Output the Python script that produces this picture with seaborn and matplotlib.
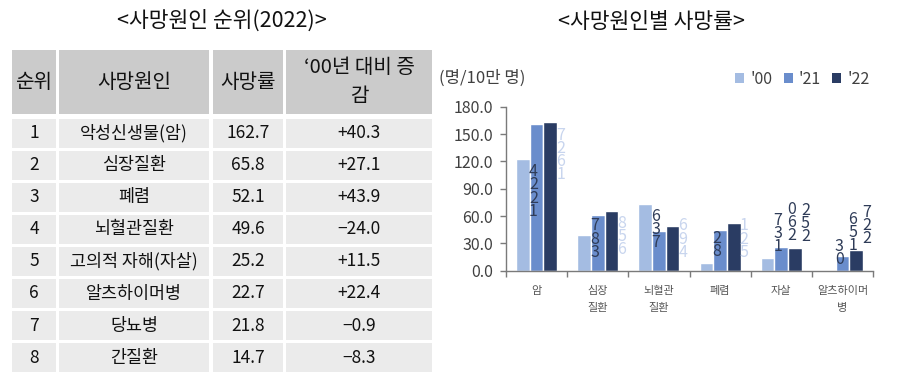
import numpy as np
import pandas as pd
import matplotlib
matplotlib.use("Agg")
import matplotlib.pyplot as plt
from matplotlib.patches import Rectangle, Patch
from matplotlib.ticker import FixedLocator, FormatStrFormatter
import seaborn as sns

# ---------------- data ----------------
# table (left)
table_title = "<사망원인 순위(2022)>"
table_header = ["순위", "사망원인", "사망률", "‘00년 대비 증\n감"]
rank = ["1", "2", "3", "4", "5", "6", "7", "8"]
causes = ["악성신생물(암)", "심장질환", "폐렴", "뇌혈관질환",
          "고의적 자해(자살)", "알츠하이머병", "당뇨병", "간질환"]
rate_2022 = [162.7, 65.8, 52.1, 49.6, 25.2, 22.7, 21.8, 14.7]
change_vs_2000 = ["+40.3", "+27.1", "+43.9", "−24.0", "+11.5", "+22.4", "−0.9", "−8.3"]

# chart (right)
chart_title = "<사망원인별 사망률>"
unit_label = "(명/10만 명)"
chart_categories = ["암", "심장\n질환", "뇌혈관\n질환", "폐렴", "자살", "알츠하이머\n병"]
years = ["'00", "'21", "'22"]
rate_00 = [122.4, 38.7, 73.6, 8.2, 13.7, 0.3]
rate_21 = [161.1, 61.5, 44.0, 44.4, 26.0, 15.6]
rate_22 = [162.7, 65.8, 49.6, 52.1, 25.2, 22.7]
y_ticks = [0, 30, 60, 90, 120, 150, 180]
show_label_00 = [True, True, True, True, True, True]
show_label_21 = [False, False, False, False, True, True]
show_label_22 = [True, True, True, True, True, True]

# ---------------- style ----------------
sns.set_theme(style="white")
plt.rcParams["font.family"] = ["Noto Sans CJK KR", "DejaVu Sans"]

bar_colors = ["#a4bce2", "#6a8dcc", "#2a3c63"]
dark_lbl = "#2f3c58"
pale_lbl = "#c8d5ee"
axis_col = "#7a7a7a"
text_col = "#404040"

W, H = 909, 378
fig = plt.figure(figsize=(W / 100, H / 100), dpi=100)

# ---------------- left table ----------------
tb = fig.add_axes([0, 0, 1, 1])
tb.set_xlim(0, W)
tb.set_ylim(H, 0)
tb.axis("off")

col_edges = [(12, 56), (59, 209), (213, 283), (286, 432)]
head_top, head_bot = 50, 114
row_top0, row_pitch, row_h = 118.5, 32.1, 29

tb.text(222, 21, table_title, ha="center", va="center", fontsize=15.5, color="#111111")

for (x0, x1), htxt in zip(col_edges, table_header):
    tb.add_patch(Rectangle((x0, head_top), x1 - x0, head_bot - head_top,
                           facecolor="#cbcbcb", edgecolor="none"))
    tb.text((x0 + x1) / 2, (head_top + head_bot) / 2, htxt, ha="center", va="center",
            fontsize=14.5, color="#111111", linespacing=1.45)

for i in range(len(rank)):
    y0 = row_top0 + i * row_pitch
    cells = [rank[i], causes[i], f"{rate_2022[i]:.1f}", change_vs_2000[i]]
    for (x0, x1), ctxt in zip(col_edges, cells):
        tb.add_patch(Rectangle((x0, y0), x1 - x0, row_h,
                               facecolor="#ebebeb", edgecolor="none"))
        tb.text((x0 + x1) / 2, y0 + row_h / 2, ctxt, ha="center", va="center",
                fontsize=12.5, color="#111111")

tb.text(651, 22, chart_title, ha="center", va="center", fontsize=15.5, color="#111111")
tb.text(439, 78, unit_label, ha="left", va="center", fontsize=12, color=text_col)

# ---------------- right bar chart ----------------
df = pd.DataFrame({
    "category": chart_categories * 3,
    "year": np.repeat(years, len(chart_categories)),
    "rate": rate_00 + rate_21 + rate_22,
})

ax = fig.add_axes([506 / W, 1 - 270.7 / H, (873 - 506) / W, (270.7 - 106.7) / H])
sns.barplot(data=df, x="category", y="rate", hue="year", order=chart_categories,
            hue_order=years, palette=bar_colors, width=0.67, saturation=1,
            errorbar=None, legend=False, ax=ax)

ax.set_xlim(-0.5, len(chart_categories) - 0.5)
ax.set_ylim(0, 180)
ax.yaxis.set_major_locator(FixedLocator(y_ticks))
ax.yaxis.set_major_formatter(FormatStrFormatter("%.1f"))
ax.set_xlabel("")
ax.set_ylabel("")
for s in ["top", "right"]:
    ax.spines[s].set_visible(False)
for s in ["left", "bottom"]:
    ax.spines[s].set_color(axis_col)
    ax.spines[s].set_linewidth(1.0)

ax.tick_params(axis="y", which="major", direction="out", length=4.5, width=1,
               color=axis_col, labelsize=11.5, labelcolor=text_col, pad=5, left=True)
ax.set_xticks(range(len(chart_categories)))
ax.set_xticklabels(chart_categories, fontsize=8, color="#555555", linespacing=1.9,
                   va="top")
ax.tick_params(axis="x", which="major", length=0, pad=11)
ax.xaxis.set_minor_locator(FixedLocator(np.arange(-0.5, len(chart_categories), 1.0)))
ax.tick_params(axis="x", which="minor", direction="out", length=4, width=1,
               color=axis_col, bottom=True)


def stacked(v):
    s = f"{v:.1f}".replace(".", "")
    return "\n".join(reversed(s))


LBL_FS = 11.5
LBL_PITCH_PX = 11.8     # vertical distance between stacked digits
MIN_GAP_PX = 10         # labels are kept this far above the axis line

shows = [show_label_00, show_label_21, show_label_22]
y0_px = ax.transData.transform((0, 0))[1]
for ci, cont in enumerate(ax.containers):
    for j, bar in enumerate(cont):
        if not shows[ci][j]:
            continue
        v = bar.get_height()
        xc = bar.get_x() + bar.get_width() / 2
        txt = stacked(v)
        inside = v >= 35
        col = pale_lbl if (inside and ci == 2) else dark_lbl
        kw = dict(textcoords="offset points", ha="center", fontsize=LBL_FS, color=col,
                  linespacing=0.7, annotation_clip=False)
        if inside:
            top_px = ax.transData.transform((0, v))[1] - 4
            bottom_px = top_px - len(txt.split("\n")) * LBL_PITCH_PX - 2
            if bottom_px < y0_px + MIN_GAP_PX:
                ax.annotate(txt, (xc, 0), xytext=(7.5, MIN_GAP_PX * 0.72), va="bottom", **kw)
            else:
                ax.annotate(txt, (xc, v), xytext=(7.5, -3), va="top", **kw)
        else:
            ax.annotate(txt, (xc, v), xytext=(7.5, 2), va="bottom", **kw)

handles = [Patch(facecolor=c, edgecolor="none") for c in bar_colors]
fig.legend(handles, years, loc="center right", bbox_to_anchor=(884 / W, 1 - 79 / H),
           ncol=3, frameon=False, fontsize=11.5, handlelength=0.55, handleheight=0.55,
           handletextpad=0.4, columnspacing=0.7, labelcolor=text_col)

fig.savefig("out.png", dpi=100)
